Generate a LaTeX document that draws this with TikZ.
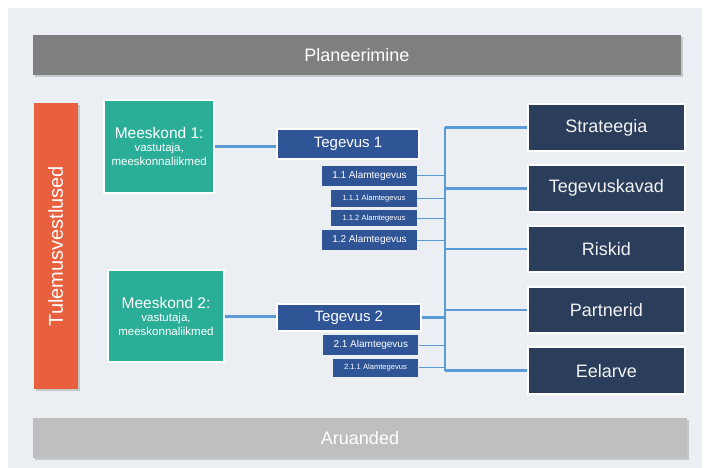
\documentclass[tikz,border=0pt]{standalone}
\usepackage{fontspec}
\setmainfont{Liberation Sans}
\usetikzlibrary{shadows,positioning}
\definecolor{panelgray}{HTML}{EBEFF3}
\definecolor{plangray}{HTML}{7F7F7F}
\definecolor{reportgray}{HTML}{BFBFBF}
\definecolor{talkred}{HTML}{E9603F}
\definecolor{teamgreen}{HTML}{2BAE98}
\definecolor{taskblue}{HTML}{2F5597}
\definecolor{topicnavy}{HTML}{2A3D5B}
\definecolor{linkblue}{HTML}{5B9BD5}
\newcommand{\teamsub}[1]{{\fontsize{11.5}{12}\selectfont #1}}

\begin{document}
\begin{tikzpicture}[x=1pt,y=-1pt,
  phase/.style={fill=#1,text=white,inner sep=0pt,minimum height=40pt,
    font=\fontsize{18}{21}\selectfont,
    drop shadow={shadow xshift=2pt,shadow yshift=-2pt,opacity=0.35}},
  team/.style={draw=white,line width=2pt,fill=teamgreen,text=white,align=center,inner sep=0pt,
    font=\fontsize{15.5}{15}\selectfont},
  task/.style={draw=white,line width=2pt,fill=taskblue,text=white,inner sep=0pt,
    font=\fontsize{15}{18}\selectfont},
  subtask/.style={fill=taskblue,text=white,inner sep=0pt,minimum width=94.4pt,minimum height=20pt,
    font=\fontsize{10}{12}\selectfont},
  subsubtask/.style={subtask,minimum width=85.4pt,minimum height=16.5pt,
    font=\fontsize{7.6}{9}\selectfont},
  topic/.style={draw=white,line width=2pt,fill=topicnavy,text=white!95!black,inner sep=0pt,
    minimum width=157.3pt,minimum height=46.5pt,font=\fontsize{18}{21}\selectfont},
  link/.style={draw=linkblue,line width=2.6pt},
  sublink/.style={draw=linkblue,line width=1pt}]
\pgfmathsetmacro{\busx}{445}
\fill[white] (0,0) rectangle (705,468);
\fill[panelgray] (8,8) rectangle (702,468);

\node[phase=plangray,minimum width=647.4pt] (plan) at (357,55) {Planeerimine};
\node[phase=reportgray,minimum width=653.4pt] (report) at (360,438.3) {Aruanded};
\node[phase=talkred,minimum width=285.7pt,minimum height=43.7pt,rotate=90,
  font=\fontsize{20}{24}\selectfont] (talks) at (55.8,246.2) {Tulemusvestlused};

\node[team,minimum width=109.7pt,minimum height=93pt] (team1) at (159.2,146.8)
  {Meeskond 1:\\[-2pt]\teamsub{vastutaja,}\\[-1pt]\teamsub{meeskonnaliikmed}};
\node[team,minimum width=115.4pt,minimum height=92pt] (team2) at (166,316.3)
  {Meeskond 2:\\[-2pt]\teamsub{vastutaja,}\\[-1pt]\teamsub{meeskonnaliikmed}};

\node[task,minimum width=142pt,minimum height=29.7pt] (task1) at (348,144.2) {Tegevus 1};
\node[subtask] (sub11) at (369.5,176) {1.1 Alamtegevus};
\node[subsubtask] (sub111) at (374,198.3) {1.1.1 Alamtegevus};
\node[subsubtask] (sub112) at (374,218.2) {1.1.2 Alamtegevus};
\node[subtask] (sub12) at (369.5,240.3) {1.2 Alamtegevus};

\node[task,minimum width=143.7pt,minimum height=27.6pt] (task2) at (348.9,317.5) {Tegevus 2};
\node[subtask,minimum width=95pt] (sub21) at (370.8,345) {2.1 Alamtegevus};
\node[subsubtask,minimum width=85.6pt,minimum height=17.7pt] (sub211) at (375.5,367.8) {2.1.1 Alamtegevus};

\node[topic] (strategy) at (606.3,127.5) {Strateegia};
\node[topic,below=12.3pt of strategy] (plans) {Tegevuskavad};
\node[topic,below=12.3pt of plans] (risks) {Riskid};
\node[topic,below=12.3pt of risks] (partners) {Partnerid};
\node[topic,below=12.3pt of partners] (budget) {Eelarve};

\coordinate (bus) at (\busx,0);
\draw[link] (team1.east) -- (team1.east -| task1.west);
\draw[link] (team2.east) -- (team2.east -| task2.west);
\draw[link] (task2.east) -- (task2.east -| bus);
\draw[link] (strategy.west -| bus) -- (budget.west -| bus);
\foreach \t in {strategy,plans,risks,partners,budget}
  \draw[link] (\t.west) -- (\t.west -| bus);
\foreach \s in {sub11,sub111,sub112,sub12,sub21,sub211}
  \draw[sublink] (\s.east) -- (\s.east -| bus);
\end{tikzpicture}
\end{document}
